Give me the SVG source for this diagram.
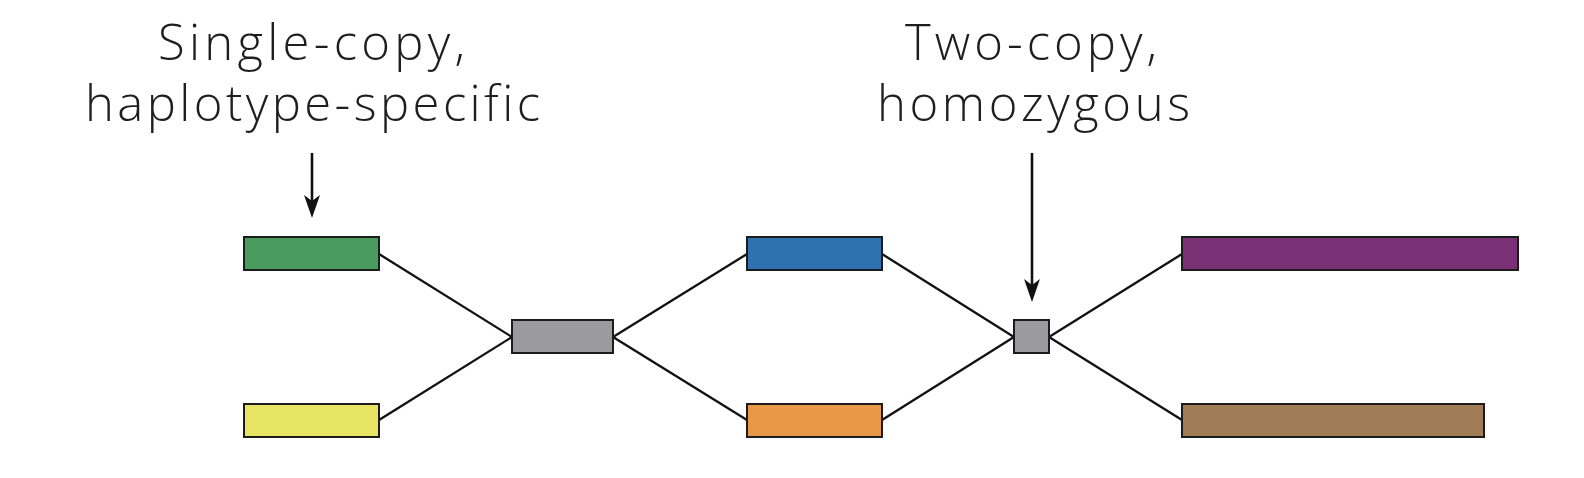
<svg xmlns="http://www.w3.org/2000/svg" width="1584" height="478" viewBox="0 0 1584 478">
<style>
.lbl{font-family:"Open Sans","Liberation Sans",sans-serif;font-weight:350;font-size:49px;fill:#1e1e1e;font-variant-ligatures:none}
.seg{stroke:#1c1c1c;stroke-width:2}
.edge{stroke:#111;stroke-width:2.3;fill:none}
.ptr{stroke:#111;stroke-width:2.6;fill:none}
.head{fill:#111}
</style>
<rect width="1584" height="478" fill="#ffffff"/>
<g id="label-single">
<text class="lbl" x="158" y="60" textLength="307" lengthAdjust="spacing">Single-copy,</text>
<text class="lbl" x="85" y="121" textLength="455" lengthAdjust="spacing">haplotype-specific</text>
</g>
<g id="label-two">
<text class="lbl" x="905" y="60" textLength="252" lengthAdjust="spacing">Two-copy,</text>
<text class="lbl" x="877" y="121" textLength="313" lengthAdjust="spacing">homozygous</text>
</g>
<g id="pointers">
<line class="ptr" x1="312" y1="153" x2="312" y2="205"/>
<path class="head" d="M312 218 L304 195 L312 201 L320 195 Z"/>
<line class="ptr" x1="1032" y1="153" x2="1032" y2="289"/>
<path class="head" d="M1032 302 L1024 279 L1032 285 L1040 279 Z"/>
</g>
<g id="connectors">
<line class="edge" x1="379" y1="254" x2="512" y2="337"/>
<line class="edge" x1="379" y1="420" x2="512" y2="337"/>
<line class="edge" x1="613" y1="337" x2="747" y2="254"/>
<line class="edge" x1="613" y1="337" x2="747" y2="420"/>
<line class="edge" x1="882" y1="254" x2="1014" y2="337"/>
<line class="edge" x1="882" y1="420" x2="1014" y2="337"/>
<line class="edge" x1="1049" y1="337" x2="1182" y2="254"/>
<line class="edge" x1="1049" y1="337" x2="1182" y2="420"/>
</g>
<g id="node-green"><rect class="seg" x="244" y="237" width="135" height="33" fill="#4a9c5e"/></g>
<g id="node-yellow"><rect class="seg" x="244" y="404" width="135" height="33" fill="#e9e564"/></g>
<g id="node-gray1"><rect class="seg" x="512" y="320" width="101" height="33" fill="#9b9b9d"/></g>
<g id="node-blue"><rect class="seg" x="747" y="237" width="135" height="33" fill="#2f72b1"/></g>
<g id="node-orange"><rect class="seg" x="747" y="404" width="135" height="33" fill="#e9984a"/></g>
<g id="node-gray2"><rect class="seg" x="1014" y="320" width="35" height="33" fill="#9b9b9d"/></g>
<g id="node-purple"><rect class="seg" x="1182" y="237" width="336" height="33" fill="#7b3176"/></g>
<g id="node-brown"><rect class="seg" x="1182" y="404" width="302" height="33" fill="#a07c57"/></g>
</svg>
